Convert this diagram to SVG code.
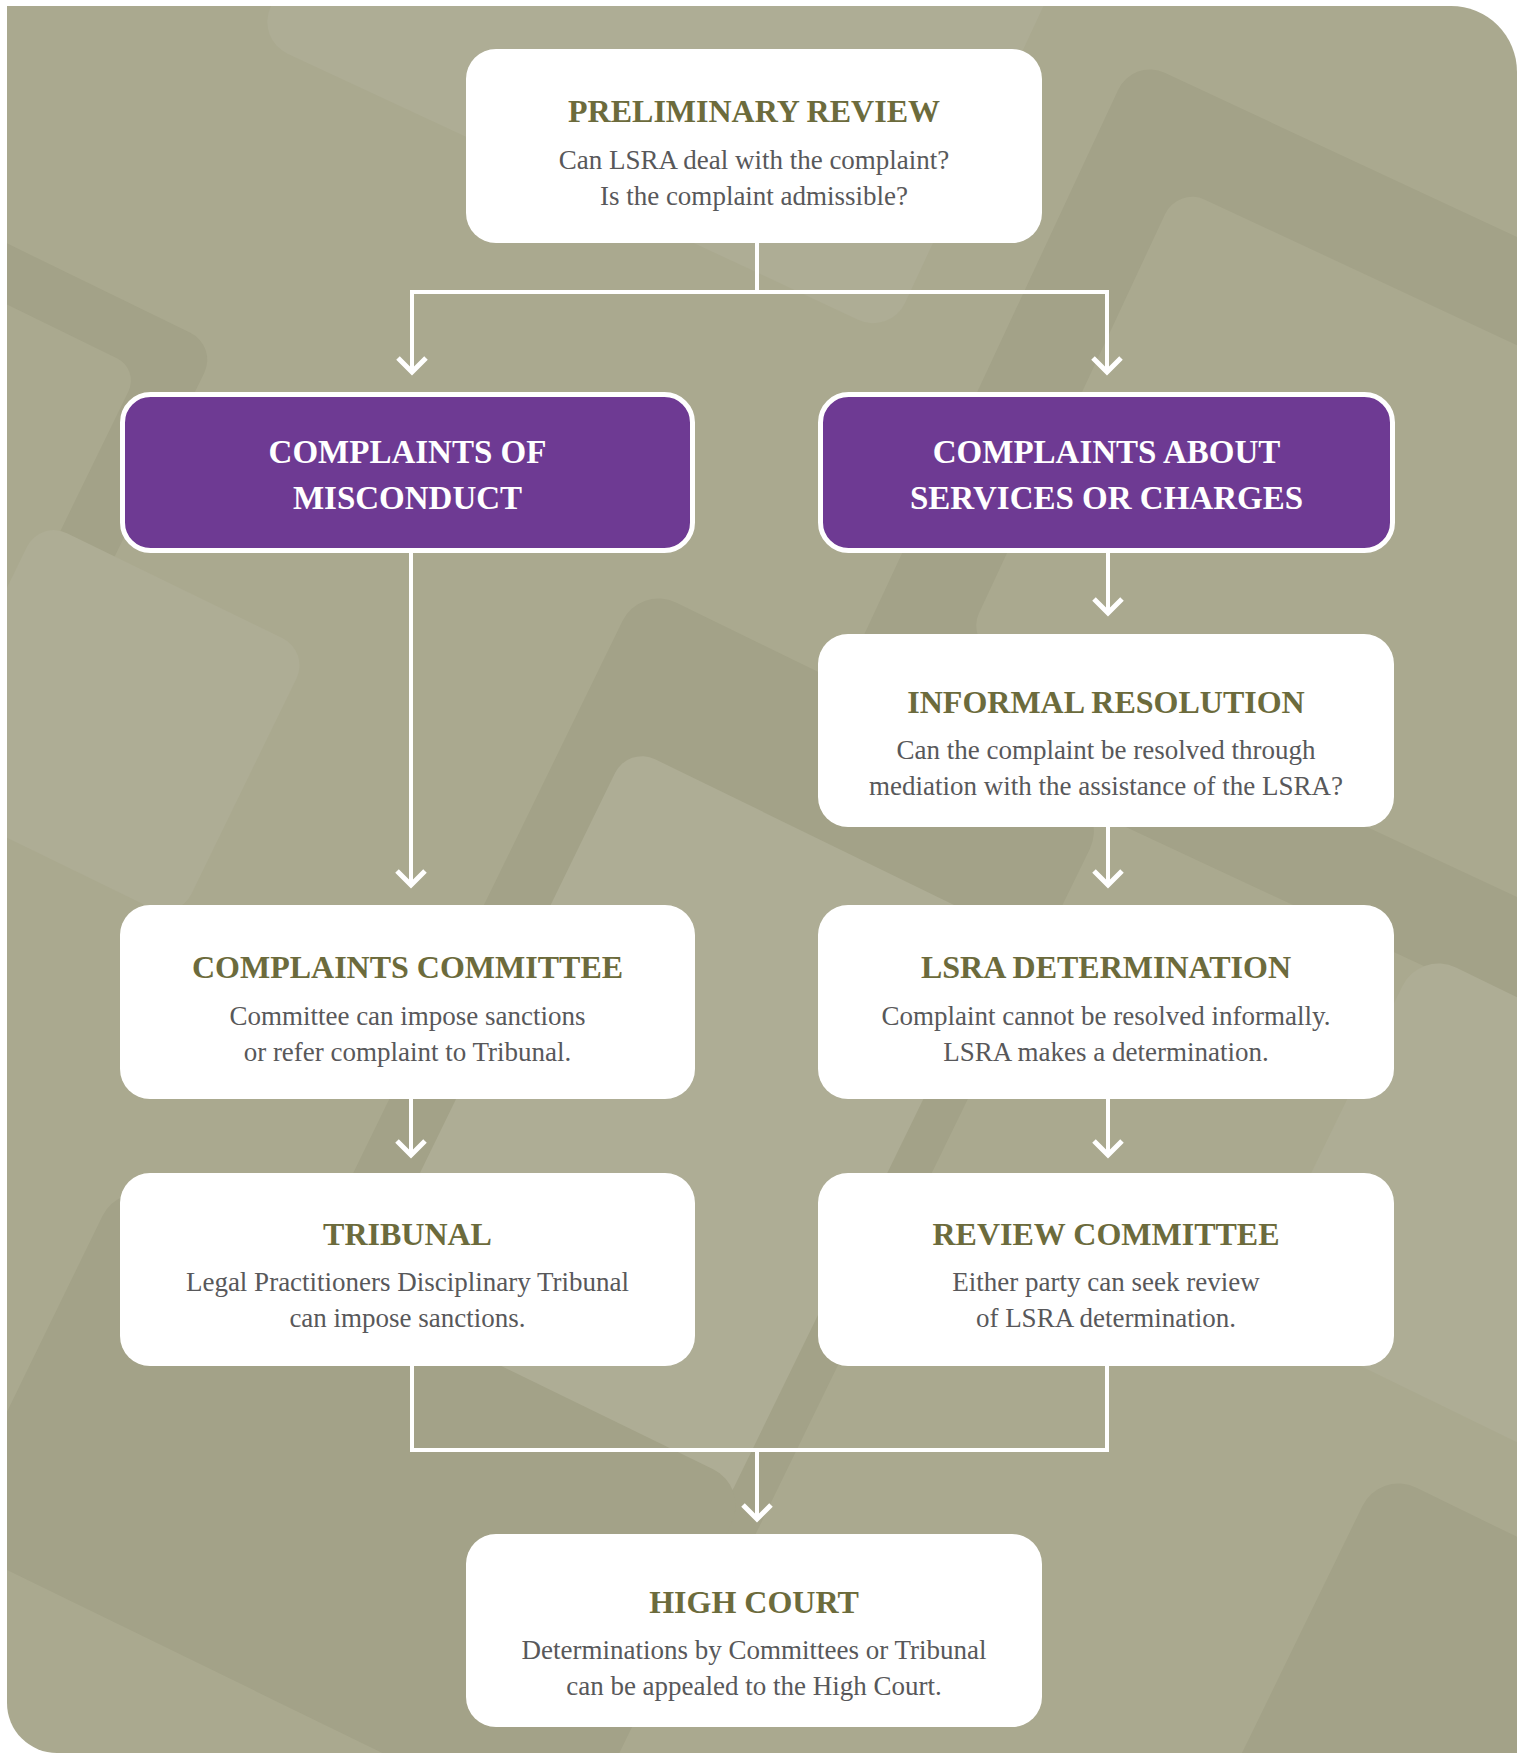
<svg xmlns="http://www.w3.org/2000/svg" width="1517" height="1753" viewBox="0 0 1517 1753">
<defs>
<style>
.title{font-family:"Liberation Serif","Times New Roman",serif;font-weight:700;font-size:32px;fill:#6C6B3C;text-anchor:middle}
.ptitle{font-family:"Liberation Serif","Times New Roman",serif;font-weight:700;font-size:33px;fill:#ffffff;text-anchor:middle}
.body{font-family:"Liberation Serif","Times New Roman",serif;font-size:27px;fill:#58585A;text-anchor:middle}
.box{fill:#ffffff}
.pbox{fill:#6E3A93;stroke:#ffffff;stroke-width:5}
.conn{fill:none;stroke:#ffffff;stroke-width:4}
.head{fill:none;stroke:#ffffff;stroke-width:5;stroke-linejoin:miter}
.dk{fill:#A3A288}
.lt{fill:#AEAD95}
</style>
<clipPath id="panelclip"><path d="M7,6 H1451 A66,66 0 0 1 1517,72 V1753 H57 A50,50 0 0 1 7,1703 Z"/></clipPath>
</defs>
<rect width="1517" height="1753" fill="#ffffff"/>
<g id="background" clip-path="url(#panelclip)">
<rect x="0" y="0" width="1517" height="1753" fill="#AAA98F"/>
<rect class="lt" x="0" y="0" width="700" height="450" rx="35" transform="translate(446,-369) rotate(25)"/>
<rect class="dk" x="0" y="0" width="900" height="700" rx="35" transform="translate(1133,58) rotate(25)"/>
<rect fill="#AAA98F" x="95" y="98" width="760" height="500" rx="30" transform="translate(1133,58) rotate(25)"/>
<rect class="dk" x="0" y="0" width="520" height="480" rx="30" transform="translate(-250,118) rotate(26)"/>
<rect fill="#AAA98F" x="0" y="55" width="460" height="370" rx="25" transform="translate(-250,118) rotate(26)"/>
<rect class="dk" x="0" y="0" width="520" height="900" rx="40" transform="translate(640,585) rotate(26)"/>
<rect class="lt" x="60" y="150" width="420" height="650" rx="30" transform="translate(640,585) rotate(26)"/>
<rect class="dk" x="0" y="0" width="700" height="400" rx="40" transform="translate(120,1180) rotate(26)"/>
<rect class="lt" x="0" y="0" width="500" height="400" rx="40" transform="translate(1420,950) rotate(26)"/>
<rect class="dk" x="0" y="0" width="600" height="500" rx="40" transform="translate(1380,1470) rotate(26)"/>
<rect class="lt" x="0" y="0" width="300" height="300" rx="30" transform="translate(40,520) rotate(26)"/>
</g>
<g id="connectors">
<path class="conn" d="M757,243 V292"/>
<path class="conn" d="M412,370 V292 H1107 V370"/>
<path class="head" d="M398,358 L412,372 L426,358"/>
<path class="head" d="M1093,358 L1107,372 L1121,358"/>
<path class="conn" d="M1108,553 V611"/>
<path class="head" d="M1094,599 L1108,613 L1122,599"/>
<path class="conn" d="M411,553 V883"/>
<path class="head" d="M397,871 L411,885 L425,871"/>
<path class="conn" d="M1108,827 V883"/>
<path class="head" d="M1094,871 L1108,885 L1122,871"/>
<path class="conn" d="M411,1099 V1153"/>
<path class="head" d="M397,1141 L411,1155 L425,1141"/>
<path class="conn" d="M1108,1099 V1153"/>
<path class="head" d="M1094,1141 L1108,1155 L1122,1141"/>
<path class="conn" d="M412,1366 V1450 H1107 V1366"/>
<path class="conn" d="M757,1450 V1517"/>
<path class="head" d="M743,1505 L757,1519 L771,1505"/>
</g>
<g id="preliminary-review">
<rect class="box" x="466" y="49" width="576" height="194" rx="30"/>
<text class="title" x="754" y="122">PRELIMINARY REVIEW</text>
<text class="body" x="754" y="169">Can LSRA deal with the complaint?</text>
<text class="body" x="754" y="205">Is the complaint admissible?</text>
</g>
<g id="complaints-of-misconduct">
<rect class="pbox" x="122.5" y="394.5" width="570" height="156" rx="28"/>
<text class="ptitle" x="407.5" y="463">COMPLAINTS OF</text>
<text class="ptitle" x="407.5" y="509">MISCONDUCT</text>
</g>
<g id="complaints-about-services">
<rect class="pbox" x="820.5" y="394.5" width="572" height="156" rx="28"/>
<text class="ptitle" x="1106.5" y="463">COMPLAINTS ABOUT</text>
<text class="ptitle" x="1106.5" y="509">SERVICES OR CHARGES</text>
</g>
<g id="informal-resolution">
<rect class="box" x="818" y="634" width="576" height="193" rx="30"/>
<text class="title" x="1106" y="713">INFORMAL RESOLUTION</text>
<text class="body" x="1106" y="759">Can the complaint be resolved through</text>
<text class="body" x="1106" y="795">mediation with the assistance of the LSRA?</text>
</g>
<g id="complaints-committee">
<rect class="box" x="120" y="905" width="575" height="194" rx="30"/>
<text class="title" x="407.5" y="978">COMPLAINTS COMMITTEE</text>
<text class="body" x="407.5" y="1025">Committee can impose sanctions</text>
<text class="body" x="407.5" y="1061">or refer complaint to Tribunal.</text>
</g>
<g id="lsra-determination">
<rect class="box" x="818" y="905" width="576" height="194" rx="30"/>
<text class="title" x="1106" y="978">LSRA DETERMINATION</text>
<text class="body" x="1106" y="1025">Complaint cannot be resolved informally.</text>
<text class="body" x="1106" y="1061">LSRA makes a determination.</text>
</g>
<g id="tribunal">
<rect class="box" x="120" y="1173" width="575" height="193" rx="30"/>
<text class="title" x="407.5" y="1245">TRIBUNAL</text>
<text class="body" x="407.5" y="1291">Legal Practitioners Disciplinary Tribunal</text>
<text class="body" x="407.5" y="1327">can impose sanctions.</text>
</g>
<g id="review-committee">
<rect class="box" x="818" y="1173" width="576" height="193" rx="30"/>
<text class="title" x="1106" y="1245">REVIEW COMMITTEE</text>
<text class="body" x="1106" y="1291">Either party can seek review</text>
<text class="body" x="1106" y="1327">of LSRA determination.</text>
</g>
<g id="high-court">
<rect class="box" x="466" y="1534" width="576" height="193" rx="30"/>
<text class="title" x="754" y="1613">HIGH COURT</text>
<text class="body" x="754" y="1659">Determinations by Committees or Tribunal</text>
<text class="body" x="754" y="1695">can be appealed to the High Court.</text>
</g>
</svg>
